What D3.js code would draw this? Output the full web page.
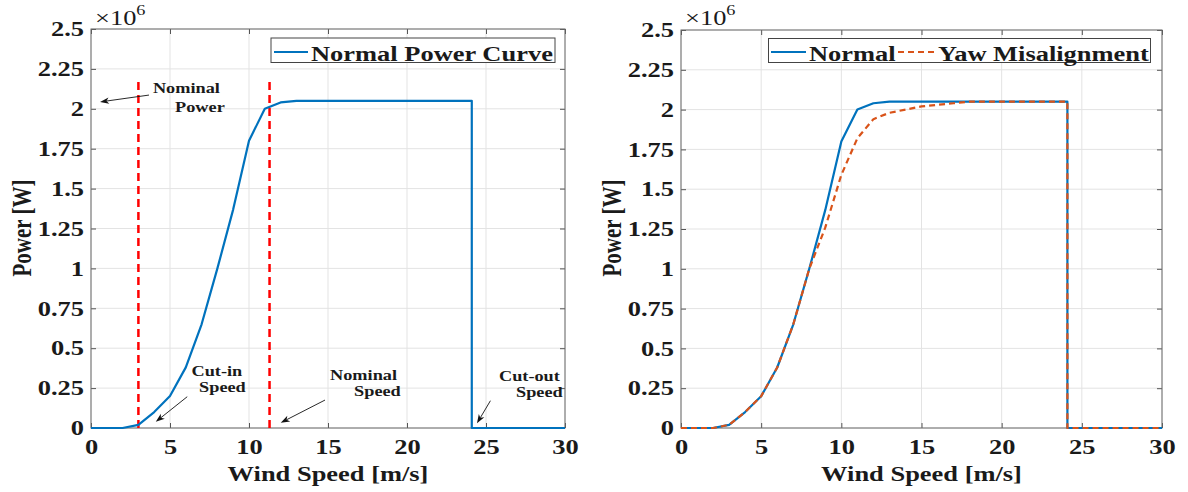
<!DOCTYPE html>
<html>
<head>
<meta charset="utf-8">
<script src="https://cdn.jsdelivr.net/npm/d3@7"></script>
<style>
  html, body { margin: 0; padding: 0; background: #fff; }
  svg { display: block; }
  text { font-family: "Liberation Serif", "Times New Roman", serif; fill: #1a1a1a; }
</style>
</head>
<body>
<svg id="chart" width="1188" height="492"></svg>
<script>
// ---------------- data ----------------
const xTickValues = [0, 5, 10, 15, 20, 25, 30];
const xTickLabels = ["0", "5", "10", "15", "20", "25", "30"];
const yTickValues = [0, 250000, 500000, 750000, 1000000, 1250000, 1500000, 1750000, 2000000, 2250000, 2500000];
const yTickLabels = ["0", "0.25", "0.5", "0.75", "1", "1.25", "1.5", "1.75", "2", "2.25", "2.5"];

// Normal power curve (wind speed m/s, power W)
const speedNormal = [0, 1, 2, 3, 4, 5, 6, 7, 8, 9, 10, 11, 12, 13, 24.1, 24.1, 30];
const powerNormal = [0, 0, 0, 20000, 100000, 200000, 380000, 650000, 1000000, 1370000, 1800000, 2000000, 2040000, 2050000, 2050000, 0, 0];

// Yaw misalignment power curve
const speedYaw = [0, 1, 2, 3, 4, 5, 6, 7, 8, 9, 10, 11, 12, 13, 14, 15, 16, 17, 18, 24.1, 24.1, 30];
const powerYaw = [0, 0, 0, 20000, 100000, 200000, 380000, 650000, 1000000, 1260000, 1590000, 1820000, 1940000, 1980000, 2000000, 2020000, 2030000, 2040000, 2050000, 2050000, 0, 0];

// Reference speeds (red dashed lines) and their height
const refSpeeds = [3, 11.3];
const refTop = 2200000;

// Annotations (data coordinates)
const annotLines = [
  { text: "Nominal", x: 3.92, y: 2102000 },
  { text: "Power", x: 5.32, y: 1983000 },
  { text: "Cut-in", x: 6.36, y: 326000 },
  { text: "Speed", x: 6.84, y: 226000 },
  { text: "Nominal", x: 15.13, y: 301000 },
  { text: "Speed", x: 16.65, y: 200000 },
  { text: "Cut-out", x: 25.82, y: 294000 },
  { text: "Speed", x: 26.9, y: 196000 }
];
const annotArrows = [
  { x1: 3.67, y1: 2086000, x2: 0.57, y2: 2043000 },
  { x1: 6.09, y1: 196000, x2: 4.10, y2: 39000 },
  { x1: 14.81, y1: 175000, x2: 12.01, y2: 33000 },
  { x1: 25.28, y1: 171000, x2: 24.43, y2: 29000 }
];

// ---------------- drawing ----------------
const SX = 1.26;            // horizontal text stretch seen in the reference
const BLUE = "#0072BD", ORANGE = "#D95319", RED = "#FF0000";
const svg = d3.select("#chart");

function zip(xs, ys) { return xs.map((x, i) => [x, ys[i]]); }

function panel(opt) {
  const x = d3.scaleLinear().domain([0, 30]).range([opt.left, opt.right]);
  const y = d3.scaleLinear().domain([0, 2500000]).range([opt.bottom, opt.top]);
  const g = svg.append("g");

  // grid
  g.append("g").selectAll("line").data(xTickValues).join("line")
    .attr("x1", d => x(d)).attr("x2", d => x(d))
    .attr("y1", opt.top).attr("y2", opt.bottom)
    .attr("stroke", "#e3e3e3").attr("stroke-width", 1);
  g.append("g").selectAll("line").data(yTickValues).join("line")
    .attr("y1", d => y(d)).attr("y2", d => y(d))
    .attr("x1", opt.left).attr("x2", opt.right)
    .attr("stroke", "#e3e3e3").attr("stroke-width", 1);

  // axes
  const axB = d3.axisBottom(x).tickValues(xTickValues).tickFormat((d, i) => xTickLabels[i])
    .tickSizeInner(-5).tickSizeOuter(0).tickPadding(11.6);
  const axL = d3.axisLeft(y).tickValues(yTickValues).tickFormat((d, i) => yTickLabels[i])
    .tickSizeInner(-5).tickSizeOuter(0).tickPadding(7 / SX);
  const axT = d3.axisTop(x).tickValues(xTickValues).tickFormat("").tickSizeInner(-5).tickSizeOuter(0);
  const axR = d3.axisRight(y).tickValues(yTickValues).tickFormat("").tickSizeInner(-5).tickSizeOuter(0);

  const gb = g.append("g").attr("transform", `translate(0,${opt.bottom})`).call(axB);
  const gl = g.append("g").attr("transform", `translate(${opt.left},0)`).call(axL);
  const gt = g.append("g").attr("transform", `translate(0,${opt.top})`).call(axT);
  const gr = g.append("g").attr("transform", `translate(${opt.right},0)`).call(axR);
  [gb, gl, gt, gr].forEach(a => {
    a.select(".domain").remove();
    a.selectAll(".tick line").attr("stroke", "#555");
    a.selectAll("text").attr("font-size", 21).attr("font-weight", "bold")
      .attr("fill", "#1a1a1a").attr("font-family", "'Liberation Serif', 'Times New Roman', serif")
      .attr("transform", `scale(${SX},1)`);
  });

  // frame
  g.append("rect").attr("x", opt.left).attr("y", opt.top)
    .attr("width", opt.right - opt.left).attr("height", opt.bottom - opt.top)
    .attr("fill", "none").attr("stroke", "#6a6a6a").attr("stroke-width", 1);

  // exponent label
  const ex = g.append("text").attr("transform", `translate(${opt.left + 4},25) scale(${SX},1)`)
    .attr("font-size", 21).attr("font-weight", "normal");
  ex.append("tspan").text("×10");
  ex.append("tspan").text("6").attr("font-size", 14.5).attr("dy", -10.5);

  // axis labels
  g.append("text").attr("transform", `translate(${(opt.left + opt.right) / 2},481) scale(${SX},1)`)
    .attr("text-anchor", "middle").attr("font-size", 21).attr("font-weight", "bold")
    .text("Wind Speed [m/s]");
  g.append("text").attr("transform", `translate(${opt.left - 60},228) rotate(-90) scale(1,${SX})`)
    .attr("text-anchor", "middle").attr("font-size", 21).attr("font-weight", "bold")
    .text("Power [W]");

  return { g, x, y };
}

const line = (x, y) => d3.line().x(d => x(d[0])).y(d => y(d[1]));

// ----- left panel -----
const L = panel({ left: 91, right: 565, top: 29, bottom: 428 });
L.g.append("g").selectAll("line").data(refSpeeds).join("line")
  .attr("x1", d => L.x(d)).attr("x2", d => L.x(d))
  .attr("y1", L.y(0)).attr("y2", L.y(refTop))
  .attr("stroke", RED).attr("stroke-width", 2.5).attr("stroke-dasharray", "8,5");
L.g.append("path").datum(zip(speedNormal, powerNormal))
  .attr("d", line(L.x, L.y)).attr("fill", "none").attr("stroke", BLUE)
  .attr("stroke-width", 2.2).attr("stroke-linejoin", "round");

// annotations
L.g.append("g").selectAll("text").data(annotLines).join("text")
  .attr("transform", d => `translate(${L.x(d.x)},${L.y(d.y)}) scale(${SX},1)`)
  .attr("font-size", 14.5).attr("font-weight", "bold").text(d => d.text);
const ag = L.g.append("g");
annotArrows.forEach(a => {
  const x1 = L.x(a.x1), y1 = L.y(a.y1), x2 = L.x(a.x2), y2 = L.y(a.y2);
  const ang = Math.atan2(y2 - y1, x2 - x1);
  const len = 9, hw = 3.2, back = 6.5;
  const ux = Math.cos(ang), uy = Math.sin(ang), px = -uy, py = ux;
  ag.append("line").attr("x1", x1).attr("y1", y1)
    .attr("x2", x2 - ux * back).attr("y2", y2 - uy * back)
    .attr("stroke", "#111").attr("stroke-width", 0.9);
  const p = d3.path();
  p.moveTo(x2, y2);
  p.lineTo(x2 - ux * len + px * hw, y2 - uy * len + py * hw);
  p.lineTo(x2 - ux * back, y2 - uy * back);
  p.lineTo(x2 - ux * len - px * hw, y2 - uy * len - py * hw);
  p.closePath();
  ag.append("path").attr("d", p.toString()).attr("fill", "#111");
});

// legend
const lgL = L.g.append("g");
lgL.append("rect").attr("x", 271).attr("y", 38).attr("width", 284).attr("height", 24.5)
  .attr("fill", "#fff").attr("stroke", "#444").attr("stroke-width", 1);
lgL.append("line").attr("x1", 274).attr("x2", 308).attr("y1", 52).attr("y2", 52)
  .attr("stroke", BLUE).attr("stroke-width", 2.2);
lgL.append("text").attr("transform", `translate(311,60.5) scale(${SX},1)`)
  .attr("font-size", 21).attr("font-weight", "bold").text("Normal Power Curve");

// ----- right panel -----
const R = panel({ left: 681, right: 1162, top: 30, bottom: 428 });
R.g.append("path").datum(zip(speedNormal, powerNormal))
  .attr("d", line(R.x, R.y)).attr("fill", "none").attr("stroke", BLUE)
  .attr("stroke-width", 2.2).attr("stroke-linejoin", "round");
R.g.append("path").datum(zip(speedYaw, powerYaw))
  .attr("d", line(R.x, R.y)).attr("fill", "none").attr("stroke", ORANGE)
  .attr("stroke-width", 2.2).attr("stroke-dasharray", "6,4").attr("stroke-linejoin", "round");

const lgR = R.g.append("g");
lgR.append("rect").attr("x", 768.5).attr("y", 38.5).attr("width", 382).attr("height", 24)
  .attr("fill", "#fff").attr("stroke", "#444").attr("stroke-width", 1);
lgR.append("line").attr("x1", 771).attr("x2", 806).attr("y1", 52).attr("y2", 52)
  .attr("stroke", BLUE).attr("stroke-width", 2.2);
lgR.append("text").attr("transform", `translate(809,60.5) scale(${SX},1)`)
  .attr("font-size", 21).attr("font-weight", "bold").text("Normal");
lgR.append("line").attr("x1", 898).attr("x2", 934).attr("y1", 52).attr("y2", 52)
  .attr("stroke", ORANGE).attr("stroke-width", 2.2).attr("stroke-dasharray", "6,4");
lgR.append("text").attr("transform", `translate(938,60.5) scale(${SX},1)`)
  .attr("font-size", 21).attr("font-weight", "bold").text("Yaw Misalignment");
</script>
</body>
</html>
